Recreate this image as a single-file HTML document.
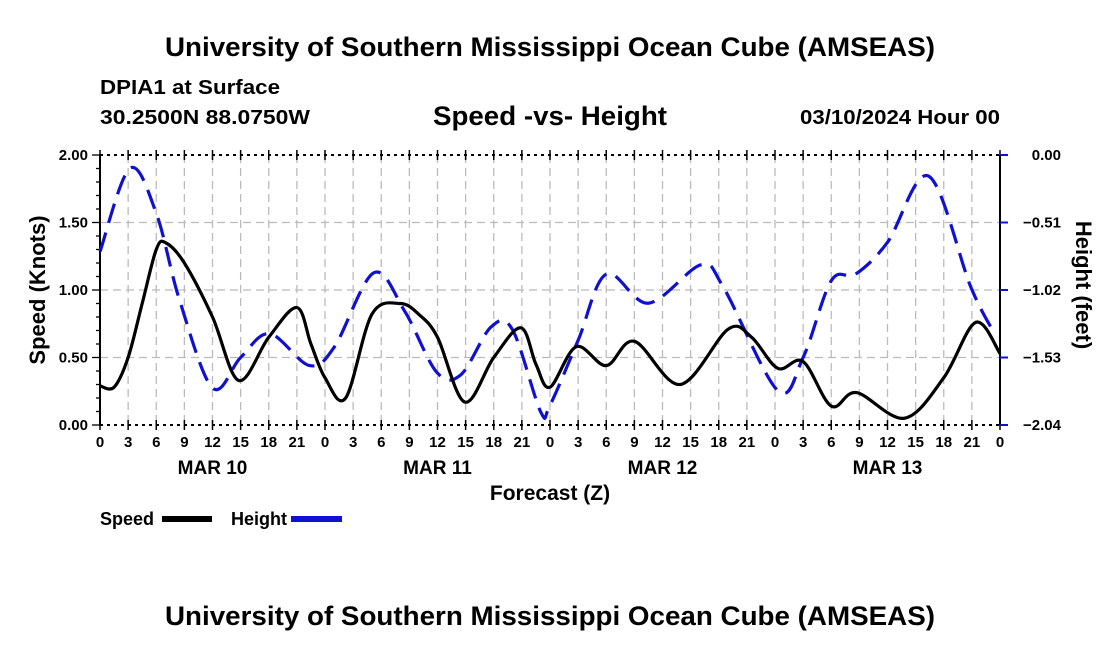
<!DOCTYPE html>
<html><head><meta charset="utf-8"><style>
body{margin:0;background:#fff;}
svg{display:block;font-family:"Liberation Sans",sans-serif;font-weight:bold;}
</style></head><body>
<svg id="chart" width="1100" height="650" viewBox="0 0 1100 650">
<text x="165" y="56" font-size="27" textLength="770" lengthAdjust="spacingAndGlyphs">University of Southern Mississippi Ocean Cube (AMSEAS)</text>
<text x="100" y="94" font-size="20" textLength="180" lengthAdjust="spacingAndGlyphs">DPIA1 at Surface</text>
<text x="100" y="124" font-size="20" textLength="210" lengthAdjust="spacingAndGlyphs">30.2500N  88.0750W</text>
<text x="433" y="125" font-size="27" textLength="234" lengthAdjust="spacingAndGlyphs">Speed -vs- Height</text>
<text x="800" y="124" font-size="20" textLength="200" lengthAdjust="spacingAndGlyphs">03/10/2024 Hour 00</text>
<g id="grid"></g>
<g id="axes"></g>
<g id="series"></g>
<text x="550" y="500" font-size="21" text-anchor="middle">Forecast (Z)</text>
<text transform="translate(45,290) rotate(-90)" font-size="22" text-anchor="middle">Speed (Knots)</text>
<text transform="translate(1076,285) rotate(90)" font-size="22" text-anchor="middle">Height (feet)</text>
<g>
<text x="100" y="525" font-size="18">Speed</text>
<rect x="162" y="516" width="50" height="6" fill="#000"/>
<text x="231" y="525" font-size="18">Height</text>
<rect x="291" y="516" width="51" height="6" fill="#1010d0"/>
</g>
<text x="165" y="625" font-size="27" textLength="770" lengthAdjust="spacingAndGlyphs">University of Southern Mississippi Ocean Cube (AMSEAS)</text>
</svg>
<script>
const xTickLabels=["0","3","6","9","12","15","18","21"];
const dayLabels=["MAR 10","MAR 11","MAR 12","MAR 13"];
const leftTicks=[0,0.5,1,1.5,2];
const rightTickLabels=["0.00","-0.51","-1.02","-1.53","-2.04"];
const speedHours=[0,1.5,3,4.5,6,7,9,12,14.8,18,21,22.5,24,26.2,29,32,34,36,38.9,42,44.9,46.5,48,50.8,54,57,61.9,67,69.5,72.3,75,78,80.7,85.8,90,93.4,96];
const speedVals=[0.29,0.28,0.5,0.9,1.3,1.35,1.2,0.8,0.33,0.65,0.87,0.6,0.35,0.2,0.82,0.9,0.82,0.65,0.17,0.5,0.72,0.45,0.28,0.58,0.44,0.62,0.3,0.71,0.65,0.42,0.47,0.14,0.24,0.05,0.35,0.76,0.53];
const heightHours=[0,3.2,6,8.5,12,15,18.1,22.3,25,29.2,32.5,35.9,38.5,41.7,44,47,48,51,54,58.5,64.1,66.5,72.3,75,78,80.6,84,88.4,92.9,95.5];
const heightVals=[-0.73,-0.10,-0.44,-1.10,-1.76,-1.53,-1.35,-1.59,-1.45,-0.89,-1.18,-1.64,-1.66,-1.30,-1.32,-1.94,-1.89,-1.40,-0.90,-1.12,-0.83,-1.00,-1.78,-1.53,-0.95,-0.90,-0.66,-0.16,-1.00,-1.36];
const NS='http://www.w3.org/2000/svg';
const X0=100,X1=1000,Y0=425,Y1=155;
const xs=h=>X0+(X1-X0)*h/96;
const ys=v=>Y0-(Y0-Y1)*v/2;
const yh=v=>Y0-(Y0-Y1)*(v+2.04)/2.04;
function mk(tag,attrs,parent){const e=document.createElementNS(NS,tag);for(const k in attrs)e.setAttribute(k,attrs[k]);parent.appendChild(e);return e;}
const grid=document.getElementById('grid'),axes=document.getElementById('axes'),series=document.getElementById('series');
for(let i=1;i<32;i++){const x=xs(i*3);
const l=mk('line',{x1:x,x2:x,y1:Y1,y2:Y0,stroke:'#bbb','stroke-width':1.3,'stroke-dasharray':'8,5'},grid);

}
leftTicks.slice(1,4).forEach(v=>{const l=mk('line',{x1:X0,x2:X1,y1:ys(v),y2:ys(v),stroke:'#bbb','stroke-width':1.3,'stroke-dasharray':'8,5'},grid);

});
[Y1,Y0].forEach(y=>{const l=mk('line',{x1:X0,x2:X1,y1:y,y2:y,stroke:'#000','stroke-width':2,'stroke-dasharray':'3,4'},axes);

});
[X0,X1].forEach(x=>{const l=mk('line',{x1:x,x2:x,y1:Y1,y2:Y0,stroke:'#000','stroke-width':2},axes);

});
for(let i=0;i<=32;i++){const x=xs(i*3);
const t=mk('line',{x1:x,x2:x,y1:Y0-5,y2:Y0+5,stroke:'#000','stroke-width':1.5},axes);


const tt=mk('line',{x1:x,x2:x,y1:Y1-5,y2:Y1+5,stroke:'#000','stroke-width':1.5},axes);


const lab=mk('text',{x:x,y:Y0+22,'font-size':15,'text-anchor':'middle'},axes);
lab.textContent=xTickLabels[i%8];

}
dayLabels.forEach((d,i)=>{const t=mk('text',{x:xs(i*24+12),y:Y0+49,'font-size':19,'text-anchor':'middle'},axes);
t.textContent=d;

});
for(let i=0;i<=20;i++){const y=ys(i*0.1),w=i%5==0?8:4;
const t=mk('line',{x1:X0-w,x2:X0,y1:y,y2:y,stroke:'#000','stroke-width':1.3},axes);

}
leftTicks.forEach(v=>{const t=mk('text',{x:X0-12,y:ys(v)+5,'font-size':15,'text-anchor':'end'},axes);
t.textContent=v.toFixed(2);

});
rightTickLabels.forEach((s,i)=>{const y=Y1+(Y0-Y1)*i/4;
const t=mk('line',{x1:X1,x2:X1+8,y1:y,y2:y,stroke:'#1010d0','stroke-width':2},axes);


const l=mk('text',{x:X1+61,y:y+5,'font-size':15,'text-anchor':'end'},axes);
l.textContent=s.replace('-','\u2212');

});
function spline(pts){let d='M'+pts[0][0]+','+pts[0][1];
for(let i=0;i<pts.length-1;i++){const p0=pts[Math.max(0,i-1)],p1=pts[i],p2=pts[i+1],p3=pts[Math.min(pts.length-1,i+2)];
d+=' C'+(p1[0]+(p2[0]-p0[0])/6)+','+(p1[1]+(p2[1]-p0[1])/6)+' '+(p2[0]-(p3[0]-p1[0])/6)+','+(p2[1]-(p3[1]-p1[1])/6)+' '+p2[0]+','+p2[1];}
return d;}
const hp=mk('path',{d:spline(heightHours.map((h,i)=>[xs(h),yh(heightVals[i])])),fill:'none',stroke:'#1010d0','stroke-width':3.2,'stroke-dasharray':'20,10'},series);


const sp=mk('path',{d:spline(speedHours.map((h,i)=>[xs(h),ys(speedVals[i])])),fill:'none',stroke:'#000','stroke-width':3.2},series);


</script>
</body></html>
